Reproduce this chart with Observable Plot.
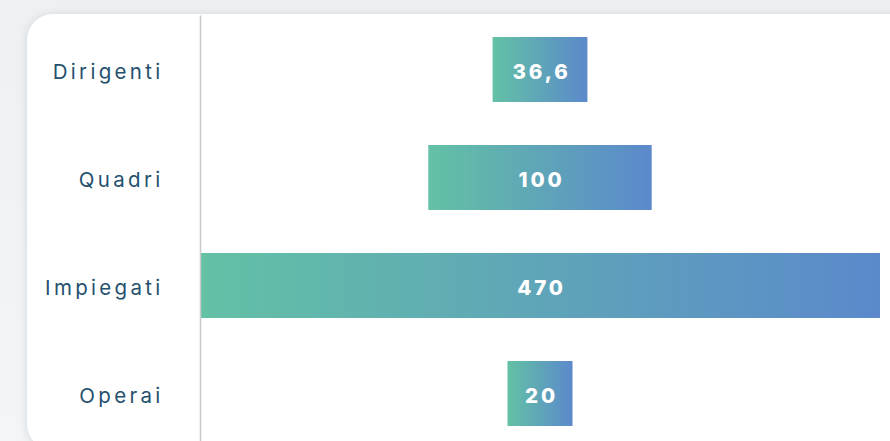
<!DOCTYPE html>
<html>
<head>
<meta charset="utf-8">
<script src="https://cdn.jsdelivr.net/npm/d3@7"></script>
<script src="https://cdn.jsdelivr.net/npm/@observablehq/plot@0.6"></script>
<style>
  html, body { margin: 0; padding: 0; overflow: hidden; width: 890px; height: 441px; }
  body { background: linear-gradient(#eef1f3, #f3f6f8); position: relative; font-family: Inter, "Noto Sans", sans-serif; }
  #card { position: absolute; left: 27px; top: 14px; width: 900px; height: 436px; background: #fff; border-radius: 26px; box-shadow: 0 1px 10px rgba(40,60,80,0.16); }
  #chart { position: absolute; left: 0; top: 14px; }
</style>
</head>
<body>
<div id="card"></div>
<div id="chart"></div>
<script>
const categories = ["Dirigenti", "Quadri", "Impiegati", "Operai"];
const values = [36.6, 100, 470, 20];

const data = categories.map((c, i) => ({ category: c, value: values[i] }));
const itFormat = d3.formatLocale({ decimal: ",", thousands: ".", grouping: [3], currency: ["", "€"] }).format("~f");

// funnel-style scale: symmetric, piecewise around the centre
const sorted = [...values].sort((a, b) => a - b);
const domain = [...sorted.map(v => -v).reverse(), 0, ...sorted];
const halfPx = [32.5, 47.4, 111.7, 340]; // displayed half-widths for sorted values
const centre = 540;
const range = [...halfPx.map(h => centre - h).reverse(), centre, ...halfPx.map(h => centre + h)];

const plot = Plot.plot({
  width: 890,
  height: 434,
  marginTop: 1.4,
  marginBottom: 0,
  marginLeft: 200,
  marginRight: 10,
  style: { background: "transparent", fontFamily: "Inter, 'Noto Sans', sans-serif", overflow: "visible" },
  x: { type: "linear", domain, range, axis: null },
  y: { domain: categories, paddingInner: 0.4, paddingOuter: 0.2, label: null },
  marks: [
    Plot.axisY({ tickSize: 0, tickPadding: 37, fontSize: 20.5, fill: "#24506e", dy: 2, label: null }),
    Plot.barX(data, { y: "category", x1: d => -d.value, x2: d => d.value, fill: "url(#barGrad)" }),
    Plot.ruleX([-d3.max(values)], { stroke: "#c9c9c9", strokeWidth: 1.5 }),
    Plot.text(data, { y: "category", x: 0, dx: 1, dy: 2, text: d => itFormat(d.value), fill: "white", fontSize: 20.5, fontWeight: 800 })
  ]
});

const svg = d3.select(plot);
const defs = svg.insert("defs", ":first-child");
const g = defs.append("linearGradient").attr("id", "barGrad").attr("x1", 0).attr("x2", 1).attr("y1", 0).attr("y2", 0);
g.append("stop").attr("offset", "0%").attr("stop-color", "#63c1a5");
g.append("stop").attr("offset", "100%").attr("stop-color", "#5b89cb");

// letter spacing for texts
svg.selectAll("g[aria-label='y-axis tick label'] text").style("letter-spacing", "3.3px");
svg.selectAll("g[aria-label='text'] text").style("letter-spacing", "2.9px");

document.getElementById("chart").appendChild(plot);
</script>
</body>
</html>
